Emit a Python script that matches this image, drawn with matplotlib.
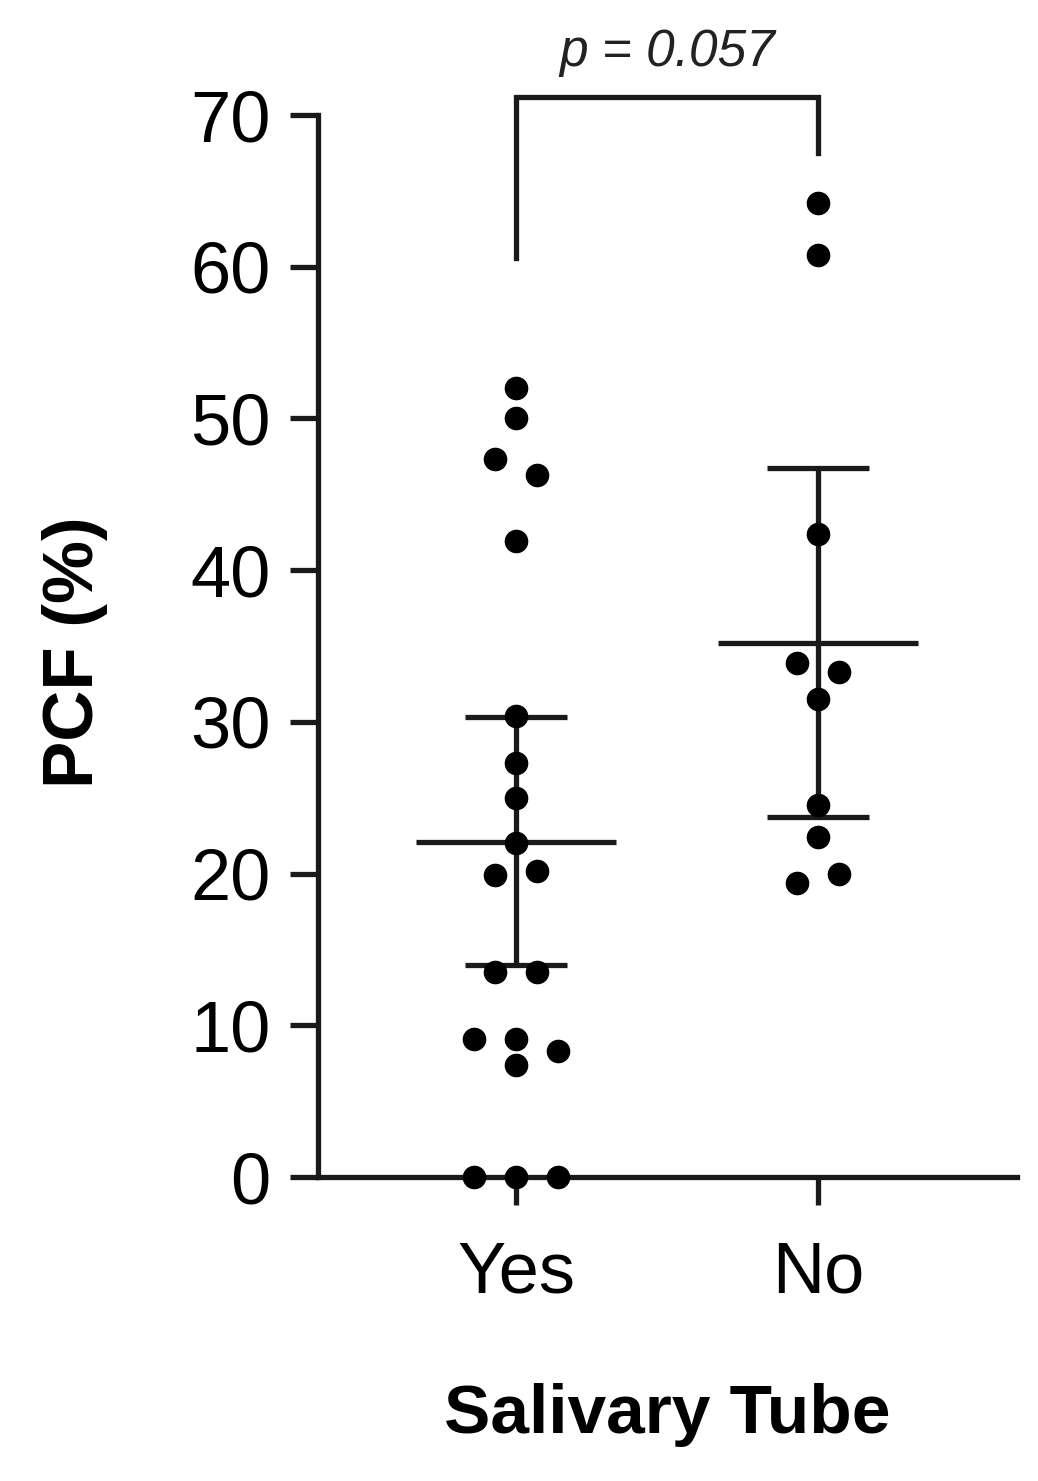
import matplotlib
matplotlib.use('agg')
import matplotlib.pyplot as plt

plt.rcParams['font.family'] = ['Liberation Sans', 'DejaVu Sans']

groups = ["Yes", "No"]

# PCF (%) per patient, with horizontal jitter offsets (in category units)
yes_vals = [52.0, 50.0, 47.3, 46.3, 41.9, 30.4, 27.3, 25.0, 22.0, 19.9, 20.2,
            13.5, 13.5, 9.1, 9.1, 8.3, 7.4, 0.0, 0.0, 0.0]
yes_jit = [0, 0, -1, 1, 0, 0, 0, 0, 0, -1, 1, -1, 1, -2, 0, 2, 0, -2, 0, 2]
no_vals = [64.2, 60.8, 42.4, 33.9, 33.3, 31.5, 24.5, 22.4, 19.4, 20.0]
no_jit = [0, 0, 0, -1, 1, 0, 0, 0, -1, 1]

means = [22.1, 35.2]
sd_hi = [30.3, 46.7]
sd_lo = [14.0, 23.7]

p_text = "p = 0.057"

fig = plt.figure(figsize=(10.38, 14.81), dpi=100)
ax = fig.add_axes([318 / 1038, 1 - 1177 / 1481, (1017 - 318) / 1038, (1177 - 115) / 1481])

step = 0.07
lw = 3.8
for i, (vals, jit) in enumerate([(yes_vals, yes_jit), (no_vals, no_jit)]):
    xs = [i + j * step for j in jit]
    ax.plot(xs, vals, 'o', color='black', markersize=16, clip_on=False, zorder=3)
    ax.hlines(means[i], i - 0.33, i + 0.33, color='#1a1a1a', lw=lw, zorder=2)
    ax.vlines(i, sd_lo[i], sd_hi[i], color='#1a1a1a', lw=lw, zorder=2)
    ax.hlines([sd_lo[i], sd_hi[i]], i - 0.17, i + 0.17, color='#1a1a1a', lw=lw, zorder=2)

# significance bracket
ax.plot([0, 0, 1, 1], [60.6, 71.2, 71.2, 67.5], color='#1a1a1a', lw=lw,
        clip_on=False, solid_joinstyle='miter')
ax.text(0.5, 74.1, p_text, ha='center', va='center', fontsize=37,
        style='italic', color='#222222')

ax.set_xlim(-0.656, 1.659)
ax.set_ylim(0, 70)
ax.set_yticks(range(0, 71, 10))
ax.set_xticks([0, 1])
ax.set_xticklabels(groups)
for s in ['top', 'right']:
    ax.spines[s].set_visible(False)
for s in ['left', 'bottom']:
    ax.spines[s].set_linewidth(lw)
    ax.spines[s].set_color('#1a1a1a')
ax.tick_params(axis='both', length=20, width=lw, color='#1a1a1a', labelsize=52)
ax.tick_params(axis='y', pad=14)
ax.tick_params(axis='x', pad=26)

fig.text(75 / 1038, 1 - 652 / 1481, "PCF (%)", rotation=90, ha='center',
         va='center', fontsize=51, fontweight='bold')
fig.text(667 / 1038, 1 - 1415 / 1481, "Salivary Tube", ha='center',
         va='center', fontsize=50, fontweight='bold')

plt.savefig("out.png", dpi=100)
